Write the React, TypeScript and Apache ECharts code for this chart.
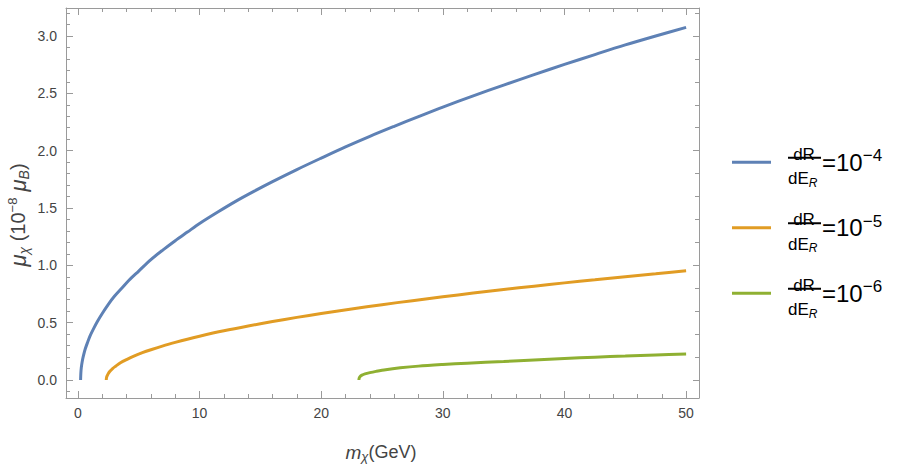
import React, { useEffect, useRef } from "react";
import * as echarts from "echarts";

// ---- data ----
const blueX = [0.22, 0.24, 0.28, 0.35, 0.45, 0.6, 0.8, 1.0, 1.3, 1.6, 2, 2.5, 3, 3.6, 4.2, 5, 6, 7, 8, 9, 10, 11.5, 13, 14.5, 16, 18, 20, 22, 24, 26, 28, 30, 32.5, 35, 37.5, 40, 42.5, 45, 47.5, 50];
const blueY = [0, 0.06, 0.11, 0.16, 0.21, 0.27, 0.33, 0.385, 0.45, 0.51, 0.58, 0.66, 0.73, 0.8, 0.87, 0.95, 1.05, 1.135, 1.215, 1.29, 1.365, 1.465, 1.56, 1.647, 1.73, 1.835, 1.935, 2.033, 2.125, 2.212, 2.297, 2.38, 2.478, 2.572, 2.663, 2.752, 2.838, 2.922, 3.0, 3.075];

const orangeX = [2.33, 2.35, 2.4, 2.5, 2.65, 2.85, 3.1, 3.5, 4, 4.6, 5.3, 6, 7, 8, 9, 10, 12, 14, 16, 18, 20, 22.5, 25, 27.5, 30, 32.5, 35, 37.5, 40, 42.5, 45, 47.5, 50];
const orangeY = [0, 0.02, 0.036, 0.057, 0.078, 0.1, 0.12, 0.15, 0.178, 0.208, 0.238, 0.264, 0.298, 0.328, 0.356, 0.382, 0.429, 0.471, 0.51, 0.546, 0.58, 0.62, 0.657, 0.692, 0.726, 0.758, 0.789, 0.818, 0.847, 0.874, 0.901, 0.927, 0.953];

const greenX = [23.1, 23.12, 23.2, 23.35, 23.6, 24, 24.5, 25.3, 26.5, 28, 30, 32, 35, 37.5, 40, 42.5, 45, 47.5, 50];
const greenY = [0, 0.015, 0.03, 0.042, 0.053, 0.064, 0.075, 0.09, 0.106, 0.121, 0.135, 0.147, 0.161, 0.174, 0.187, 0.199, 0.209, 0.219, 0.227];

const seriesNames = ["dR/dE_R=10^-4", "dR/dE_R=10^-5", "dR/dE_R=10^-6"];
const legendExponents = ["−4", "−5", "−6"];
const colors = ["#5E81B5", "#E19C24", "#8FB032"];

const xMajor = [0, 10, 20, 30, 40, 50];
const xMinor = [2, 4, 6, 8, 12, 14, 16, 18, 22, 24, 26, 28, 32, 34, 36, 38, 42, 44, 46, 48];
const yMajor = [0, 0.5, 1, 1.5, 2, 2.5, 3];
const yMinor = [-0.1, 0.1, 0.2, 0.3, 0.4, 0.6, 0.7, 0.8, 0.9, 1.1, 1.2, 1.3, 1.4, 1.6, 1.7, 1.8, 1.9, 2.1, 2.2, 2.3, 2.4, 2.6, 2.7, 2.8, 2.9, 3.1, 3.2];
const yRightMajor = [0, 1, 2, 3];
const yRightMinor = [0.2, 0.4, 0.6, 0.8, 1.2, 1.4, 1.6, 1.8, 2.2, 2.4, 2.6, 2.8, 3.2];

const X_MIN = -0.98;
const X_MAX = 51.06;
const Y_MIN = -0.157;
const Y_MAX = 3.244;

const FONT = "'Liberation Sans', Arial, sans-serif";
const FRAME = "#9a9a9a";

function zip(xs: number[], ys: number[]) {
  return xs.map((x, i) => [x, ys[i]]);
}

function xAxisDef(position: "top" | "bottom", ticks: number[], len: number, labels: boolean, line: boolean) {
  return {
    type: "value",
    min: X_MIN,
    max: X_MAX,
    position,
    axisLine: { show: line, onZero: false, lineStyle: { color: FRAME, width: 1 } },
    axisTick: { show: true, inside: true, length: len, customValues: ticks, lineStyle: { color: FRAME, width: 1 } },
    axisLabel: labels
      ? { show: true, customValues: ticks, color: "#444", fontSize: 14, fontFamily: FONT, margin: 8 }
      : { show: false },
    splitLine: { show: false },
  };
}

function yAxisDef(position: "left" | "right", ticks: number[], len: number, labels: boolean, line: boolean) {
  return {
    type: "value",
    min: Y_MIN,
    max: Y_MAX,
    position,
    axisLine: { show: line, onZero: false, lineStyle: { color: FRAME, width: 1 } },
    axisTick: { show: true, inside: true, length: len, customValues: ticks, lineStyle: { color: FRAME, width: 1 } },
    axisLabel: labels
      ? {
          show: true,
          customValues: ticks,
          color: "#444",
          fontSize: 14,
          fontFamily: FONT,
          margin: 9,
          formatter: (v: number) => v.toFixed(1),
        }
      : { show: false },
    splitLine: { show: false },
  };
}

function legendGraphics() {
  const rows = [162.3, 227.8, 293.3];
  const els: any[] = [];
  rows.forEach((ry, i) => {
    els.push({
      type: "line",
      shape: { x1: 732, y1: ry, x2: 771, y2: ry },
      style: { stroke: colors[i], lineWidth: 3 },
      silent: true,
    });
    els.push({
      type: "text",
      x: 804,
      y: ry + 0.5,
      style: { text: "dR", fontSize: 17, fontFamily: FONT, fill: "#000", align: "center", verticalAlign: "bottom" },
      silent: true,
    });
    els.push({
      type: "line",
      shape: { x1: 788, y1: ry - 4.5, x2: 821, y2: ry - 4.5 },
      style: { stroke: "#000", lineWidth: 2 },
      silent: true,
    });
    els.push({
      type: "text",
      x: 788,
      y: ry + 6.5,
      style: {
        text: "{a|dE}{s|R}",
        align: "left",
        verticalAlign: "top",
        rich: {
          a: { fontSize: 17, fontFamily: FONT, fill: "#000", lineHeight: 20 },
          s: { fontSize: 12, fontFamily: FONT, fontStyle: "italic", fill: "#000", lineHeight: 12, verticalAlign: "bottom" },
        },
      },
      silent: true,
    });
    els.push({
      type: "text",
      x: 822,
      y: ry,
      style: {
        text: "{b|=10}{p|" + legendExponents[i] + "}",
        align: "left",
        verticalAlign: "middle",
        rich: {
          b: { fontSize: 24, fontFamily: FONT, fill: "#000", lineHeight: 30 },
          p: { fontSize: 17, fontFamily: FONT, fill: "#000", lineHeight: 20, verticalAlign: "top" },
        },
      },
      silent: true,
    });
  });
  return els;
}

export default function App() {
  const ref = useRef<HTMLDivElement>(null);
  useEffect(() => {
    if (!ref.current) return;
    const chart = echarts.init(ref.current, undefined, { renderer: "svg" });
    const datasets = [zip(blueX, blueY), zip(orangeX, orangeY), zip(greenX, greenY)];
    chart.setOption({
      animation: false,
      backgroundColor: "#fff",
      grid: { left: 66, top: 8, right: 201, bottom: 68, containLabel: false },
      xAxis: [
        xAxisDef("bottom", xMajor, 7, true, true),
        xAxisDef("bottom", xMinor, 4, false, false),
        xAxisDef("top", xMajor, 7, false, true),
        xAxisDef("top", xMinor, 4, false, false),
      ],
      yAxis: [
        yAxisDef("left", yMajor, 7, true, true),
        yAxisDef("left", yMinor, 4, false, false),
        yAxisDef("right", yRightMajor, 6, false, true),
        yAxisDef("right", yRightMinor, 4, false, false),
      ],
      series: datasets.map((d, i) => ({
        name: seriesNames[i],
        type: "line",
        xAxisIndex: 0,
        yAxisIndex: 0,
        data: d,
        showSymbol: false,
        symbol: "none",
        smooth: 0.3,
        lineStyle: { color: colors[i], width: 3 },
        itemStyle: { color: colors[i] },
        z: 3,
      })),
      graphic: [
        ...legendGraphics(),
        {
          type: "text",
          x: 381,
          y: 452,
          style: {
            text: "{i|m}{s|χ}{n|(GeV)}",
            align: "center",
            verticalAlign: "middle",
            rich: {
              i: { fontSize: 19, fontFamily: FONT, fontStyle: "italic", fill: "#444", lineHeight: 22 },
              s: { fontSize: 13, fontFamily: FONT, fontStyle: "italic", fill: "#444", lineHeight: 13, verticalAlign: "bottom" },
              n: { fontSize: 18, fontFamily: FONT, fill: "#444", lineHeight: 22 },
            },
          },
          silent: true,
        },
        {
          type: "text",
          x: 18,
          y: 215,
          rotation: Math.PI / 2,
          style: {
            text: "{i|μ}{s|χ}{n| (10}{p|−8}{i| μ}{s|B}{n|)}",
            align: "center",
            verticalAlign: "middle",
            rich: {
              i: { fontSize: 22, fontFamily: FONT, fontStyle: "italic", fill: "#444", lineHeight: 25 },
              s: { fontSize: 14, fontFamily: FONT, fontStyle: "italic", fill: "#444", lineHeight: 14, verticalAlign: "bottom" },
              n: { fontSize: 20, fontFamily: FONT, fill: "#444", lineHeight: 25 },
              p: { fontSize: 13, fontFamily: FONT, fill: "#444", lineHeight: 13, verticalAlign: "top" },
            },
          },
          silent: true,
        },
      ],
    });
    return () => chart.dispose();
  }, []);
  return (
    <div
      ref={ref}
      style={{ position: "fixed", left: 0, top: 0, width: 900, height: 466, background: "#fff" }}
    />
  );
}
